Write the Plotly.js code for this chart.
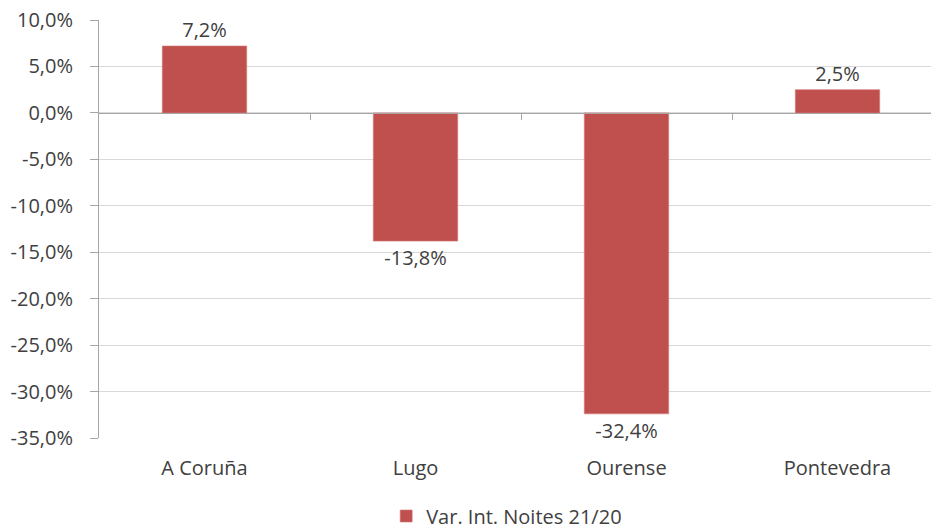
<!DOCTYPE html>
<html>
<head>
<meta charset="utf-8">
<script src="https://cdn.plot.ly/plotly-3.0.1.min.js"></script>
<style>html,body{margin:0;padding:0;background:#fff;}#chart{width:931px;height:530px;}</style>
</head>
<body>
<div id="chart"></div>
<script>
const categories = ["A Coruña", "Lugo", "Ourense", "Pontevedra"];
const values = [0.072, -0.138, -0.324, 0.025];
const seriesName = "Var. Int. Noites 21/20";
const yTickVals = [0.10, 0.05, 0, -0.05, -0.10, -0.15, -0.20, -0.25, -0.30, -0.35];
const yTickText = ["10,0%", "5,0%", "0,0%", "-5,0%", "-10,0%", "-15,0%", "-20,0%", "-25,0%", "-30,0%", "-35,0%"];
const boundaryTicks = [0.5, 1.5, 2.5];

const FONT = "'Open Sans', Lato, sans-serif";
const TXT = "#404040";
const labels = values.map(v => (v * 100).toFixed(1).replace('.', ',') + '%');

const yMin = -0.35, yMax = 0.10;
const xRange = [-0.5, -0.5 + 832 / 211];

const traces = [{
  type: 'bar',
  x: categories,
  y: values,
  name: seriesName,
  marker: {color: '#C0504D', line: {color: '#D27B78', width: 0.6}},
  text: labels,
  textposition: 'outside',
  textfont: {family: FONT, size: 20, color: TXT},
  cliponaxis: false,
  hoverinfo: 'none'
}, {
  type: 'scatter',
  mode: 'markers',
  x: boundaryTicks,
  y: boundaryTicks.map(() => 0),
  xaxis: 'x2',
  yaxis: 'y',
  marker: {opacity: 0},
  showlegend: false,
  hoverinfo: 'none'
}];

const layout = {
  width: 931, height: 530,
  margin: {l: 99, r: 0, t: 20, b: 92, autoexpand: false},
  paper_bgcolor: '#fff', plot_bgcolor: '#fff',
  separators: ',.',
  bargap: 0.6,
  showlegend: true,
  font: {family: FONT, color: TXT},
  xaxis: {
    type: 'category',
    range: xRange,
    automargin: false,
    showgrid: false, showline: false, zeroline: false,
    ticks: '',
    tickfont: {family: FONT, size: 20, color: TXT},
    ticklabelstandoff: 16,
    fixedrange: true
  },
  xaxis2: {
    type: 'linear',
    overlaying: 'x',
    anchor: 'free',
    position: (0 - yMin) / (yMax - yMin),
    range: xRange,
    automargin: false,
    showgrid: false, zeroline: false,
    showline: true, linecolor: '#a6a6a6', linewidth: 1.5,
    tickmode: 'array', tickvals: boundaryTicks,
    ticks: 'outside', ticklen: 6, tickcolor: '#a6a6a6', tickwidth: 1,
    showticklabels: false,
    side: 'bottom',
    fixedrange: true
  },
  yaxis: {
    range: [yMin, yMax],
    automargin: false,
    tickmode: 'array', tickvals: yTickVals, ticktext: yTickText,
    showgrid: true, gridcolor: '#d9d9d9', gridwidth: 1,
    zeroline: false,
    showline: true, linecolor: '#a6a6a6', linewidth: 1,
    ticks: 'outside', ticklen: 8, tickcolor: '#a6a6a6',
    tickfont: {family: FONT, size: 20, color: TXT},
    ticklabelstandoff: 13,
    fixedrange: true
  },
  legend: {
    orientation: 'h',
    x: 0.49, xanchor: 'center',
    yref: 'container',
    y: 14 / 530, yanchor: 'middle',
    font: {family: FONT, size: 20, color: TXT},
    bgcolor: 'rgba(0,0,0,0)'
  }
};

Plotly.newPlot('chart', traces, layout, {displayModeBar: false, staticPlot: true});
</script>
</body>
</html>
